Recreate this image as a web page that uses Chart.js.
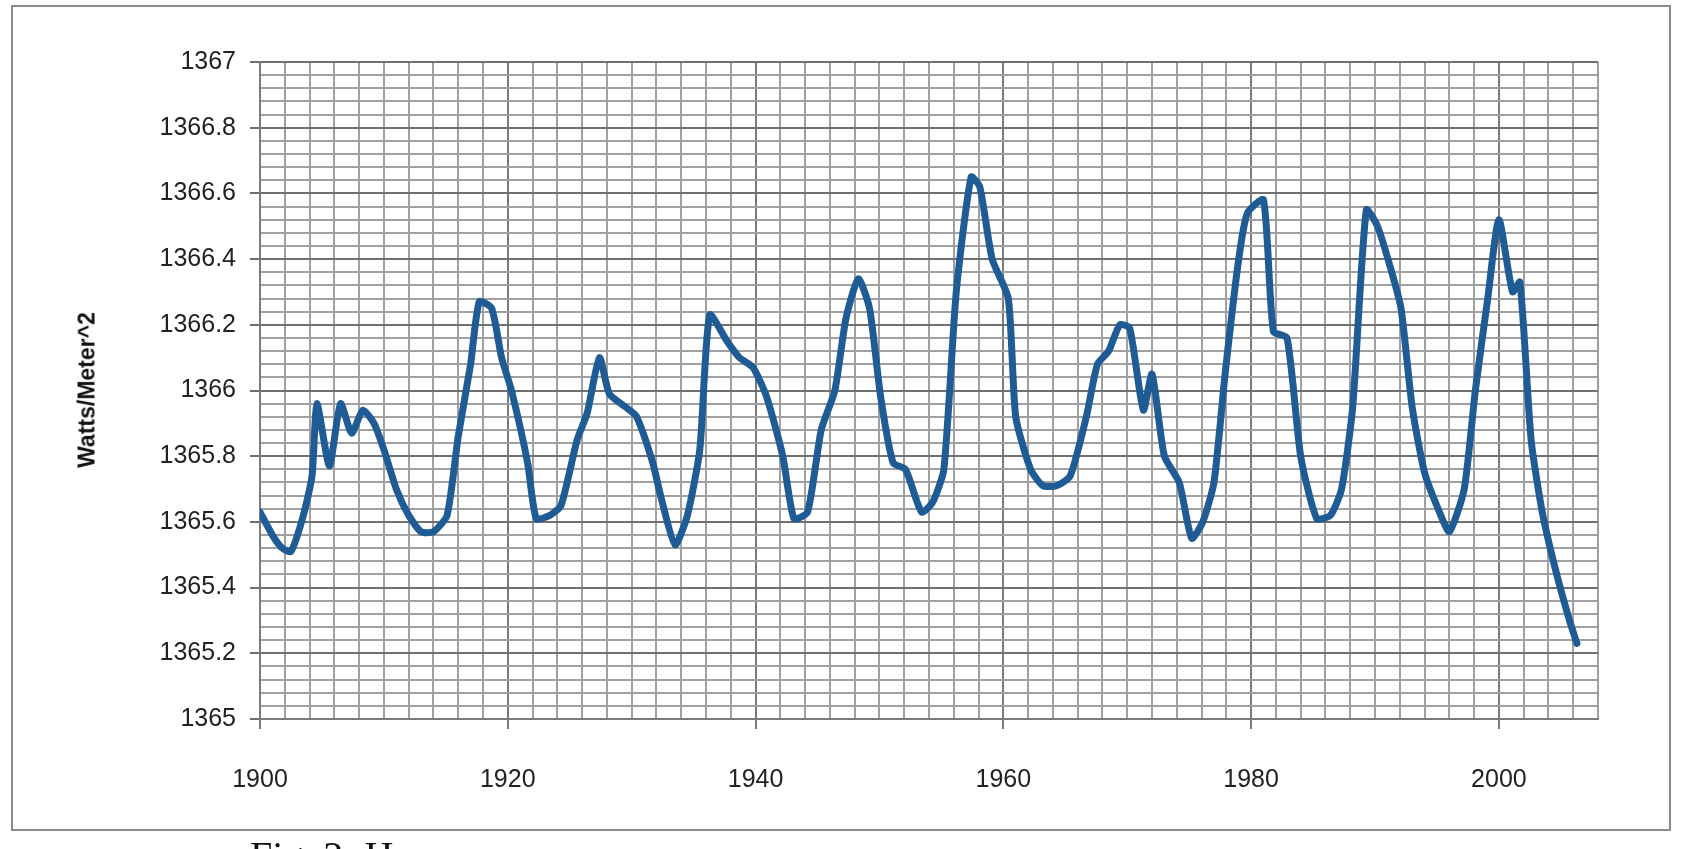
<!DOCTYPE html>
<html><head><meta charset="utf-8">
<script src="https://cdn.jsdelivr.net/npm/chart.js@4/dist/chart.umd.min.js"></script>
<style>
html,body{margin:0;padding:0;background:#fff;overflow:hidden;width:1702px;height:849px}
#frame{position:absolute;left:11px;top:5px;width:1660px;height:826px;border:2px solid #8a8a8a;box-sizing:border-box}
#c{position:absolute;left:0;top:0}
#ylab{position:absolute;left:87px;top:390px;transform:translate(-50%,-50%) rotate(-90deg);font:bold 23px "Liberation Sans",Arial,sans-serif;color:#111;white-space:nowrap}
#cap{position:absolute;left:250px;top:832px;font:40px "Liberation Serif","Times New Roman",serif;color:#111;white-space:nowrap}
</style></head><body>
<div id="frame"></div>
<canvas id="c" width="1702" height="849"></canvas>
<div id="ylab">Watts/Meter^2</div>
<div id="cap">Fig. 2: H</div>
<script>
const years = [1900,1901,1901.8,1902.5,1903.5,1904.2,1904.6,1905.6,1906.5,1907.4,1908.3,1909.2,1910,1911,1912,1913,1914,1915.1,1916,1917,1917.7,1918.7,1919.5,1920.3,1921.6,1922.3,1923.4,1924.3,1925.6,1926.4,1927.4,1928.2,1929.5,1930.4,1931.7,1932.4,1933.5,1934.5,1935.5,1936.3,1937.7,1938.7,1939.8,1940.9,1942.2,1943.1,1944.2,1945.3,1946.4,1947.3,1948.3,1949.2,1950.1,1951.1,1952.1,1953.4,1954.3,1955.2,1956.2,1957.4,1958.1,1959.1,1960.4,1961,1962.2,1963.2,1964.3,1965.4,1966.7,1967.6,1968.5,1969.4,1970.2,1971.3,1972,1973,1974.2,1975.2,1976.1,1977,1977.9,1979,1979.7,1981,1981.8,1982.9,1984,1985.3,1986.4,1987.3,1988.2,1989.3,1990.2,1991.2,1992.1,1993,1994,1995.2,1996,1997.2,1998.1,1999.1,2000,2001.1,2001.7,2002.6,2003.5,2004.6,2005.7,2006.3];
const irradiance = [1365.63,1365.56,1365.52,1365.51,1365.62,1365.74,1365.96,1365.77,1365.96,1365.87,1365.94,1365.90,1365.82,1365.70,1365.62,1365.57,1365.57,1365.62,1365.86,1366.08,1366.27,1366.25,1366.10,1366.00,1365.78,1365.61,1365.62,1365.65,1365.85,1365.93,1366.10,1365.99,1365.95,1365.92,1365.78,1365.67,1365.53,1365.62,1365.82,1366.23,1366.15,1366.10,1366.07,1365.98,1365.80,1365.61,1365.63,1365.88,1366.00,1366.22,1366.34,1366.25,1365.98,1365.78,1365.76,1365.63,1365.66,1365.76,1366.30,1366.65,1366.62,1366.40,1366.28,1365.92,1365.76,1365.71,1365.71,1365.74,1365.92,1366.08,1366.12,1366.20,1366.19,1365.94,1366.05,1365.80,1365.72,1365.55,1365.60,1365.72,1366.05,1366.40,1366.54,1366.58,1366.18,1366.16,1365.80,1365.61,1365.62,1365.70,1365.95,1366.55,1366.50,1366.38,1366.25,1365.95,1365.75,1365.63,1365.57,1365.70,1366.00,1366.28,1366.52,1366.30,1366.33,1365.85,1365.63,1365.45,1365.30,1365.23];
const xLabelYears = [1900,1920,1940,1960,1980,2000];
const yLabelValues = [1365,1365.2,1365.4,1365.6,1365.8,1366,1366.2,1366.4,1366.6,1366.8,1367];

const near = (v, arr) => arr.some(a => Math.abs(a - v) < 1e-6);
const pts = years.map((x,i)=>({x, y: irradiance[i]}));
new Chart(document.getElementById('c'), {
  type: 'line',
  data: { datasets: [{ data: pts, borderColor: '#1f5c96', borderWidth: 7, pointRadius: 0, tension: 0.2, fill: false, borderJoinStyle: 'round', borderCapStyle: 'round' }] },
  options: {
    responsive: false, animation: false,
    layout: { padding: { left: 0, top: 62, right: 104, bottom: 0 } },
    plugins: { legend: { display: false }, tooltip: { enabled: false } },
    scales: {
      x: {
        type: 'linear', min: 1900, max: 2008,
        afterFit: s => { s.height = 130; },
        afterBuildTicks: s => { const t=[]; for (let v=1900; v<=2008; v+=2) t.push({value:v}); s.ticks = t; },
        ticks: { autoSkip: false, maxRotation: 0, padding: 36, color: '#222', font: { family: '"Liberation Sans", Arial, sans-serif', size: 25 },
          callback: v => near(v, xLabelYears) ? String(v) : '' },
        grid: { color: c => near(c.tick.value, xLabelYears) ? '#7a7a7a' : '#a0a0a0', lineWidth: 2, tickLength: 10,
          tickColor: c => near(c.tick.value, xLabelYears) ? '#7a7a7a' : 'rgba(0,0,0,0)' },
        border: { color: '#7a7a7a', width: 2 }
      },
      y: {
        min: 1365, max: 1367,
        afterFit: s => { s.width = 260; },
        afterBuildTicks: s => { const t=[]; for (let i=0;i<=50;i++) t.push({value: 1365 + i*0.04}); s.ticks = t; },
        ticks: { autoSkip: false, padding: 14, color: '#222', font: { family: '"Liberation Sans", Arial, sans-serif', size: 25 },
          callback: v => { const r = Math.round(v*100)/100; return near(r, yLabelValues) ? String(Math.round(r*10)/10) : ''; } },
        grid: { color: c => near(Math.round(c.tick.value*100)/100, yLabelValues) ? '#707070' : '#a0a0a0', lineWidth: 2, tickLength: 10,
          tickColor: c => near(Math.round(c.tick.value*100)/100, yLabelValues) ? '#707070' : 'rgba(0,0,0,0)' },
        border: { color: '#7a7a7a', width: 2 }
      }
    }
  }
});
</script>
</body></html>
